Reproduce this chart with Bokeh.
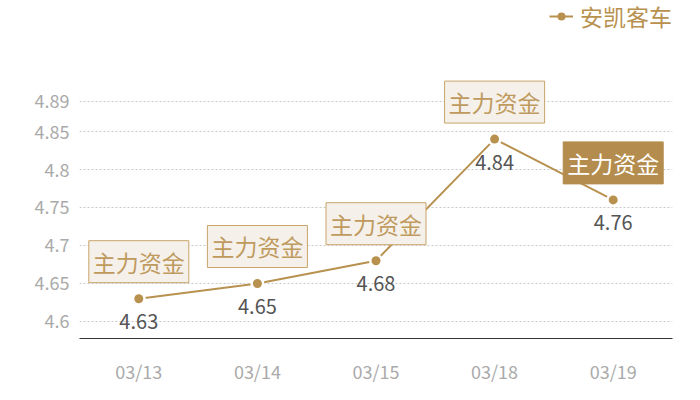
from bokeh.plotting import figure
from bokeh.models import ColumnDataSource, Legend, LegendItem, FixedTicker, Range1d
from bokeh.embed import file_html
from bokeh.resources import INLINE
from bokeh.core.properties import value

dates = ["03/13", "03/14", "03/15", "03/18", "03/19"]
prices = [4.63, 4.65, 4.68, 4.84, 4.76]
tags = ["主力资金", "主力资金", "主力资金", "主力资金", "主力资金"]
highlight = [False, False, False, False, True]
y_ticks = [4.6, 4.65, 4.7, 4.75, 4.8, 4.85, 4.89]
series_name = "安凯客车"

GOLD = "#b8914f"
FONT = "Noto Sans CJK SC"

src = ColumnDataSource(dict(date=dates, price=prices, label=[f"{v:g}" for v in prices], tag=tags))
src_norm = ColumnDataSource(dict(
    date=[d for d, h in zip(dates, highlight) if not h],
    price=[v for v, h in zip(prices, highlight) if not h],
    tag=[t for t, h in zip(tags, highlight) if not h]))
src_hi = ColumnDataSource(dict(
    date=[d for d, h in zip(dates, highlight) if h],
    price=[v for v, h in zip(prices, highlight) if h],
    tag=[t for t, h in zip(tags, highlight) if h]))

p = figure(width=700, height=400, x_range=dates, y_range=Range1d(4.57763, 5.02237),
           output_backend="svg", toolbar_location=None,
           min_border_left=79, min_border_right=28, min_border_top=0, min_border_bottom=62)
p.outline_line_color = None
p.background_fill_color = "white"

p.xgrid.grid_line_color = None
p.ygrid.grid_line_color = "#c8c8c8"
p.ygrid.grid_line_dash = "2 2"
p.ygrid.ticker = FixedTicker(ticks=y_ticks)

p.yaxis.ticker = FixedTicker(ticks=y_ticks)
p.yaxis.major_label_overrides = {t: f"{t:g}" for t in y_ticks}
p.yaxis.axis_line_color = None
p.yaxis.major_tick_line_color = None
p.yaxis.minor_tick_line_color = None
p.yaxis.major_label_text_color = "#aaaaaa"
p.yaxis.major_label_text_font_size = "18px"
p.yaxis.major_label_text_font = FONT
p.yaxis.major_label_standoff = 4

p.xaxis.axis_line_color = "#333333"
p.xaxis.major_tick_line_color = None
p.xaxis.minor_tick_line_color = None
p.xaxis.major_label_text_color = "#aaaaaa"
p.xaxis.major_label_text_font_size = "18px"
p.xaxis.major_label_text_font = FONT
p.xaxis.major_label_standoff = 13

ln = p.line(x="date", y="price", source=src, line_color=GOLD, line_width=2)
p.scatter(x="date", y="price", source=src, size=14, fill_color="white", line_color=None)
dots = p.scatter(x="date", y="price", source=src, size=9, fill_color=GOLD, line_color=None)

p.text(x="date", y="price", text="label", source=src, y_offset=23,
       text_align="center", text_baseline="middle", text_color="#555555",
       text_font_size="20px", text_font=value(FONT))

p.text(x="date", y="price", text="tag", source=src_norm, y_offset=-37,
       text_align="center", text_baseline="middle", text_color="#bf9a5e",
       text_font_size="23px", text_font=value(FONT),
       background_fill_color="#f5f1ea", border_line_color="#c9a46a",
       border_line_width=1, padding=4)
p.text(x="date", y="price", text="tag", source=src_hi, y_offset=-37,
       text_align="center", text_baseline="middle", text_color="white",
       text_font_size="23px", text_font=value(FONT),
       background_fill_color="#b48d4e", border_line_color="#b48d4e",
       border_line_width=1, padding=4)

legend = Legend(items=[LegendItem(label=series_name, renderers=[ln, dots])],
                location=(470, 305), orientation="horizontal",
                label_text_font=FONT, label_text_font_size="23px", label_text_color=GOLD,
                glyph_width=24, glyph_height=20, label_standoff=7,
                background_fill_alpha=0, border_line_color=None, padding=0, margin=0, spacing=0)
p.add_layout(legend)

open("out.html", "w").write(file_html(p, INLINE))
